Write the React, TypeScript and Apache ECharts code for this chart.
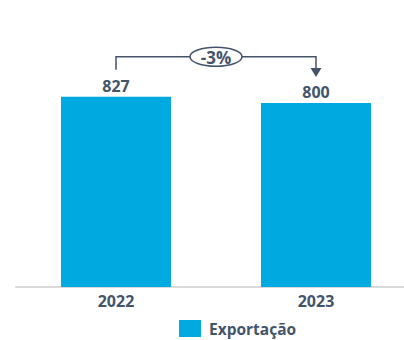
import React, { useEffect, useRef } from "react";
import * as echarts from "echarts";

const categories = ["2022", "2023"];
const exportValues = [827, 800];
const seriesName = "Exportação";

const BAR = "#00A9E0";
const TXT = "#44546A";
const FONT = "'Open Sans', 'Noto Sans', sans-serif";

export default function App() {
  const ref = useRef<HTMLDivElement>(null);
  useEffect(() => {
    if (!ref.current) return;
    const chart = echarts.init(ref.current, null, { renderer: "svg" });
    chart.setOption({
      animation: false,
      textStyle: { fontFamily: FONT },
      grid: { left: 16, width: 400, top: 57, height: 230, outerBoundsMode: "none", containLabel: false },
      xAxis: {
        type: "category",
        data: categories,
        axisTick: { show: false },
        axisLine: { lineStyle: { color: "#D9D9D9", width: 2 } },
        axisLabel: { color: TXT, fontSize: 16, fontWeight: "bold", fontFamily: FONT, margin: 6 },
      },
      yAxis: { type: "value", min: 0, max: 1000, show: false, splitLine: { show: false } },
      legend: {
        data: [seriesName],
        left: 179,
        top: 320,
        padding: 0,
        itemWidth: 22,
        itemHeight: 17,
        icon: "rect",
        itemGap: 8,
        textStyle: { color: TXT, fontSize: 15.5, fontWeight: "bold", fontFamily: FONT, padding: [0, 0, 0, 3] },
      },
      series: [
        {
          name: seriesName,
          type: "bar",
          data: exportValues,
          barWidth: "55%",
          itemStyle: { color: BAR },
          label: {
            show: true,
            position: "top",
            distance: 3,
            color: TXT,
            fontSize: 16,
            fontWeight: "bold",
            fontFamily: FONT,
          },
        },
      ],
    });

    const p1 = chart.convertToPixel({ seriesIndex: 0 }, [0, exportValues[0]]) as number[];
    const p2 = chart.convertToPixel({ seriesIndex: 0 }, [1, exportValues[1]]) as number[];
    const hy = Math.min(p1[1], p2[1]) - 40;
    const y1 = p1[1] - 27;
    const tipY = p2[1] - 26;
    const cx = (p1[0] + p2[0]) / 2;
    const pct = Math.round(((exportValues[1] - exportValues[0]) / exportValues[0]) * 100);
    const stroke = { stroke: TXT, lineWidth: 1.5, fill: "none" };
    chart.setOption({
      graphic: [
        { type: "polyline", shape: { points: [[p1[0], y1], [p1[0], hy], [p2[0], hy], [p2[0], tipY - 8]] }, style: stroke, z: 10 },
        { type: "polygon", shape: { points: [[p2[0] - 5.5, tipY - 9], [p2[0] + 5.5, tipY - 9], [p2[0], tipY]] }, style: { fill: TXT }, z: 10 },
        { type: "ellipse", shape: { cx, cy: hy, rx: 26, ry: 9.5 }, style: { fill: "#fff", stroke: TXT, lineWidth: 1.5 }, z: 11 },
        {
          type: "text",
          x: cx,
          y: hy + 0.5,
          z: 12,
          style: {
            text: `${pct}%`,
            fill: TXT,
            font: `bold 17px ${FONT}`,
            align: "center",
            verticalAlign: "middle",
          },
        },
      ],
    });
    return () => chart.dispose();
  }, []);
  return (
    <div
      ref={ref}
      style={{ position: "fixed", left: 0, top: 0, width: 404, height: 340, background: "#fff" }}
    />
  );
}
